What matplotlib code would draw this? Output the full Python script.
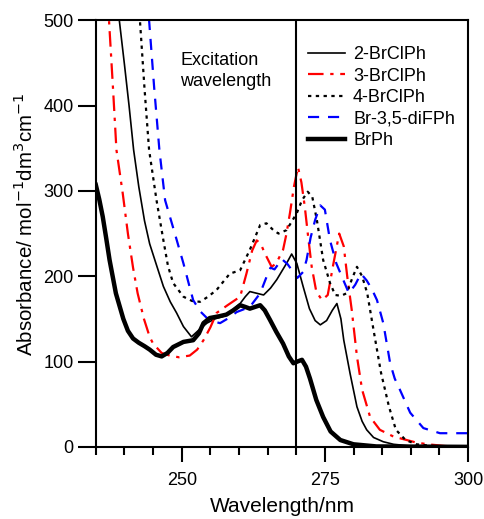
import numpy as np
import matplotlib.pyplot as plt
from matplotlib.ticker import MultipleLocator

plt.rcParams['font.family'] = ['Liberation Sans', 'DejaVu Sans']

# 2-BrClPh
x_2brcl = [238.4, 239.1, 240, 240.8, 241.6, 242.5, 243.5, 244.4, 245.5, 246.8, 248, 249.1, 250.3, 251.7,
           253, 254.4, 255.8, 257.3, 258.8, 260.2, 261.1, 261.9, 263.1, 264.3, 265.5, 266.6, 268.3,
           269.2, 270.1, 271.2, 272.3, 273.3, 274.2, 275.3, 276.3, 277.1, 277.8, 278.3, 279.4, 280.6,
           281.5, 282.3, 283.5, 285.2, 287, 290, 300]
y_2brcl = [560, 500, 448, 400, 348, 305, 265, 238, 215, 188, 170, 157, 141, 129,
           137, 145, 150, 153, 160, 168, 176, 182, 180, 178, 186, 196, 215,
           226, 215, 188, 162, 148, 143, 148, 160, 168, 150, 125, 86, 47,
           30, 20, 11, 6, 3, 1, 0]

# 3-BrClPh
x_3brcl = [236.5, 237.3, 238, 238.6, 239.7, 240.6, 241.5, 242.3, 243.4, 244.4, 245, 246.5, 247.9, 249.5,
           251.4, 252.7, 253.8, 255, 256.1, 258, 260.2, 261.3, 262.3, 263.1, 263.8, 264.5, 265.7,
           266.5, 267.7, 268.3, 268.9, 269.6, 270.3, 270.9, 271.5, 272.1, 272.7, 273.5, 274.5,
           275.5, 276.5, 277.5, 278.3, 278.9, 279.7, 280.6, 281.5, 282.9, 284.6, 287, 291, 293,
           296, 300]
y_3brcl = [570, 500, 420, 348, 297, 250, 210, 180, 150, 129, 121, 110, 107, 105,
           107, 114, 125, 140, 157, 166, 176, 203, 230, 242, 238, 227, 211,
           215, 231, 250, 274, 305, 328, 310, 281, 245, 211, 182, 172,
           178, 215, 250, 235, 200, 160, 106, 67, 35, 20, 12, 5, 3,
           1, 0]

# 4-BrClPh
x_4brcl = [242, 242.7, 243.5, 244.3, 245.6, 246.8, 247.6, 248.5, 250.3, 251.8, 253.2, 254.6, 256.1,
           258.4, 260.2, 261.9, 263.7, 264.8, 266, 266.9, 268.3, 269.3, 270.1, 271, 272, 272.8,
           273.6, 274.7, 275.9, 276.8, 277.8, 278.8, 279.8, 280.6, 281.5, 282.4, 283.6, 284.8,
           286.2, 287.4, 289.1, 291, 294, 300]
y_4brcl = [560, 500, 420, 348, 289, 242, 212, 192, 176, 171, 170, 176, 184,
           203, 207, 231, 260, 262, 254, 250, 254, 265, 274, 289, 299, 293,
           266, 219, 192, 178, 177, 180, 198, 211, 200, 180, 133, 87,
           47, 20, 8, 3, 1, 0]

# Br-3,5-diFPh
x_difph = [243.6, 244.3, 245.2, 246.1, 247.1, 248.8, 250.3, 251.2, 252, 253.2, 254.4, 255.5, 256.7,
           258.2, 259.6, 261.9, 263.7, 264.8, 265.5, 266.2, 267.5, 268.5, 270.2, 271.2, 271.8,
           272.5, 273.3, 274.2, 275, 275.9, 277, 278, 279.2, 280.3, 281.3, 282.3, 283.2, 284.1,
           285.2, 286.4, 287.2, 288.1, 289.9, 292.2, 295.1, 300]
y_difph = [560, 500, 420, 348, 289, 250, 215, 192, 172, 159, 151, 147, 145,
           151, 158, 164, 180, 199, 210, 208, 220, 214, 198, 205, 219,
           245, 266, 283, 278, 242, 215, 199, 180, 190, 203, 195, 185, 172,
           145, 98, 80, 67, 40, 22, 16, 16]

# BrPh
x_brph = [235, 235.6, 236.2, 236.8, 237.4, 238.5, 239.8, 240.6, 241.5, 242.5, 243.5, 244.4, 245.5,
          246.5, 247.5, 248.5, 250.3, 252, 253, 253.8, 254.9, 256.5, 257.8, 259, 260.2, 261.1,
          261.9, 262.8, 263.7, 264.5, 265.4, 266.5, 267.7, 268.7, 269.5, 270.2, 271, 271.7,
          272.4, 273.5, 274.7, 276, 277.7, 280, 284, 300]
y_brph = [307, 290, 270, 245, 219, 180, 150, 136, 127, 122, 118, 114, 108,
          106, 110, 117, 123, 125, 133, 145, 151, 153, 155, 160, 166, 164,
          162, 164, 166, 160, 149, 135, 121, 106, 98, 100, 102, 94,
          80, 55, 35, 18, 8, 3, 0.5, 0]

excitation = 270

fig = plt.figure(figsize=(4.84, 5.19), dpi=100)
ax = fig.add_axes([0.198, 0.139, 0.769, 0.822])

ax.plot(x_2brcl, y_2brcl, color='black', lw=1.2, label='2-BrClPh')
ax.plot(x_3brcl, y_3brcl, color='red', lw=1.6, linestyle=(0, (7, 3, 1.5, 3)), label='3-BrClPh')
ax.plot(x_4brcl, y_4brcl, color='black', lw=1.6, linestyle=(0, (1.5, 2)), label='4-BrClPh')
ax.plot(x_difph, y_difph, color='blue', lw=1.6, linestyle=(0, (5, 4)), label='Br-3,5-diFPh')
ax.plot(x_brph, y_brph, color='black', lw=3.2, label='BrPh')
ax.axvline(excitation, color='black', lw=1.5)

ax.text(249.7, 463, 'Excitation\nwavelength', fontsize=13, ha='left', va='top', linespacing=1.35)

ax.set_xlim(235, 300)
ax.set_ylim(0, 500)
ax.set_xticks([250, 275, 300])
ax.xaxis.set_minor_locator(MultipleLocator(5))
ax.set_yticks([0, 100, 200, 300, 400, 500])

for s in ax.spines.values():
    s.set_linewidth(1.5)
ax.tick_params(axis='x', which='major', direction='out', length=11, width=1.5, labelsize=13, pad=7)
ax.tick_params(axis='x', which='minor', direction='out', length=6, width=1.5)
ax.tick_params(axis='y', which='major', direction='out', length=13, width=1.5, labelsize=13, pad=3)

ax.set_xlabel('Wavelength/nm', fontsize=15, labelpad=6)
ax.set_ylabel('Absorbance/ mol$^{-1}$dm$^{3}$cm$^{-1}$', fontsize=14.8)
ax.yaxis.set_label_coords(-0.158, 0.522)

ax.legend(loc='upper left', bbox_to_anchor=(0.57, 0.939), frameon=False, fontsize=13,
          handlelength=2.05, handletextpad=0.45, labelspacing=0.25, borderpad=0, borderaxespad=0)

fig.savefig('out.png', dpi=100)
